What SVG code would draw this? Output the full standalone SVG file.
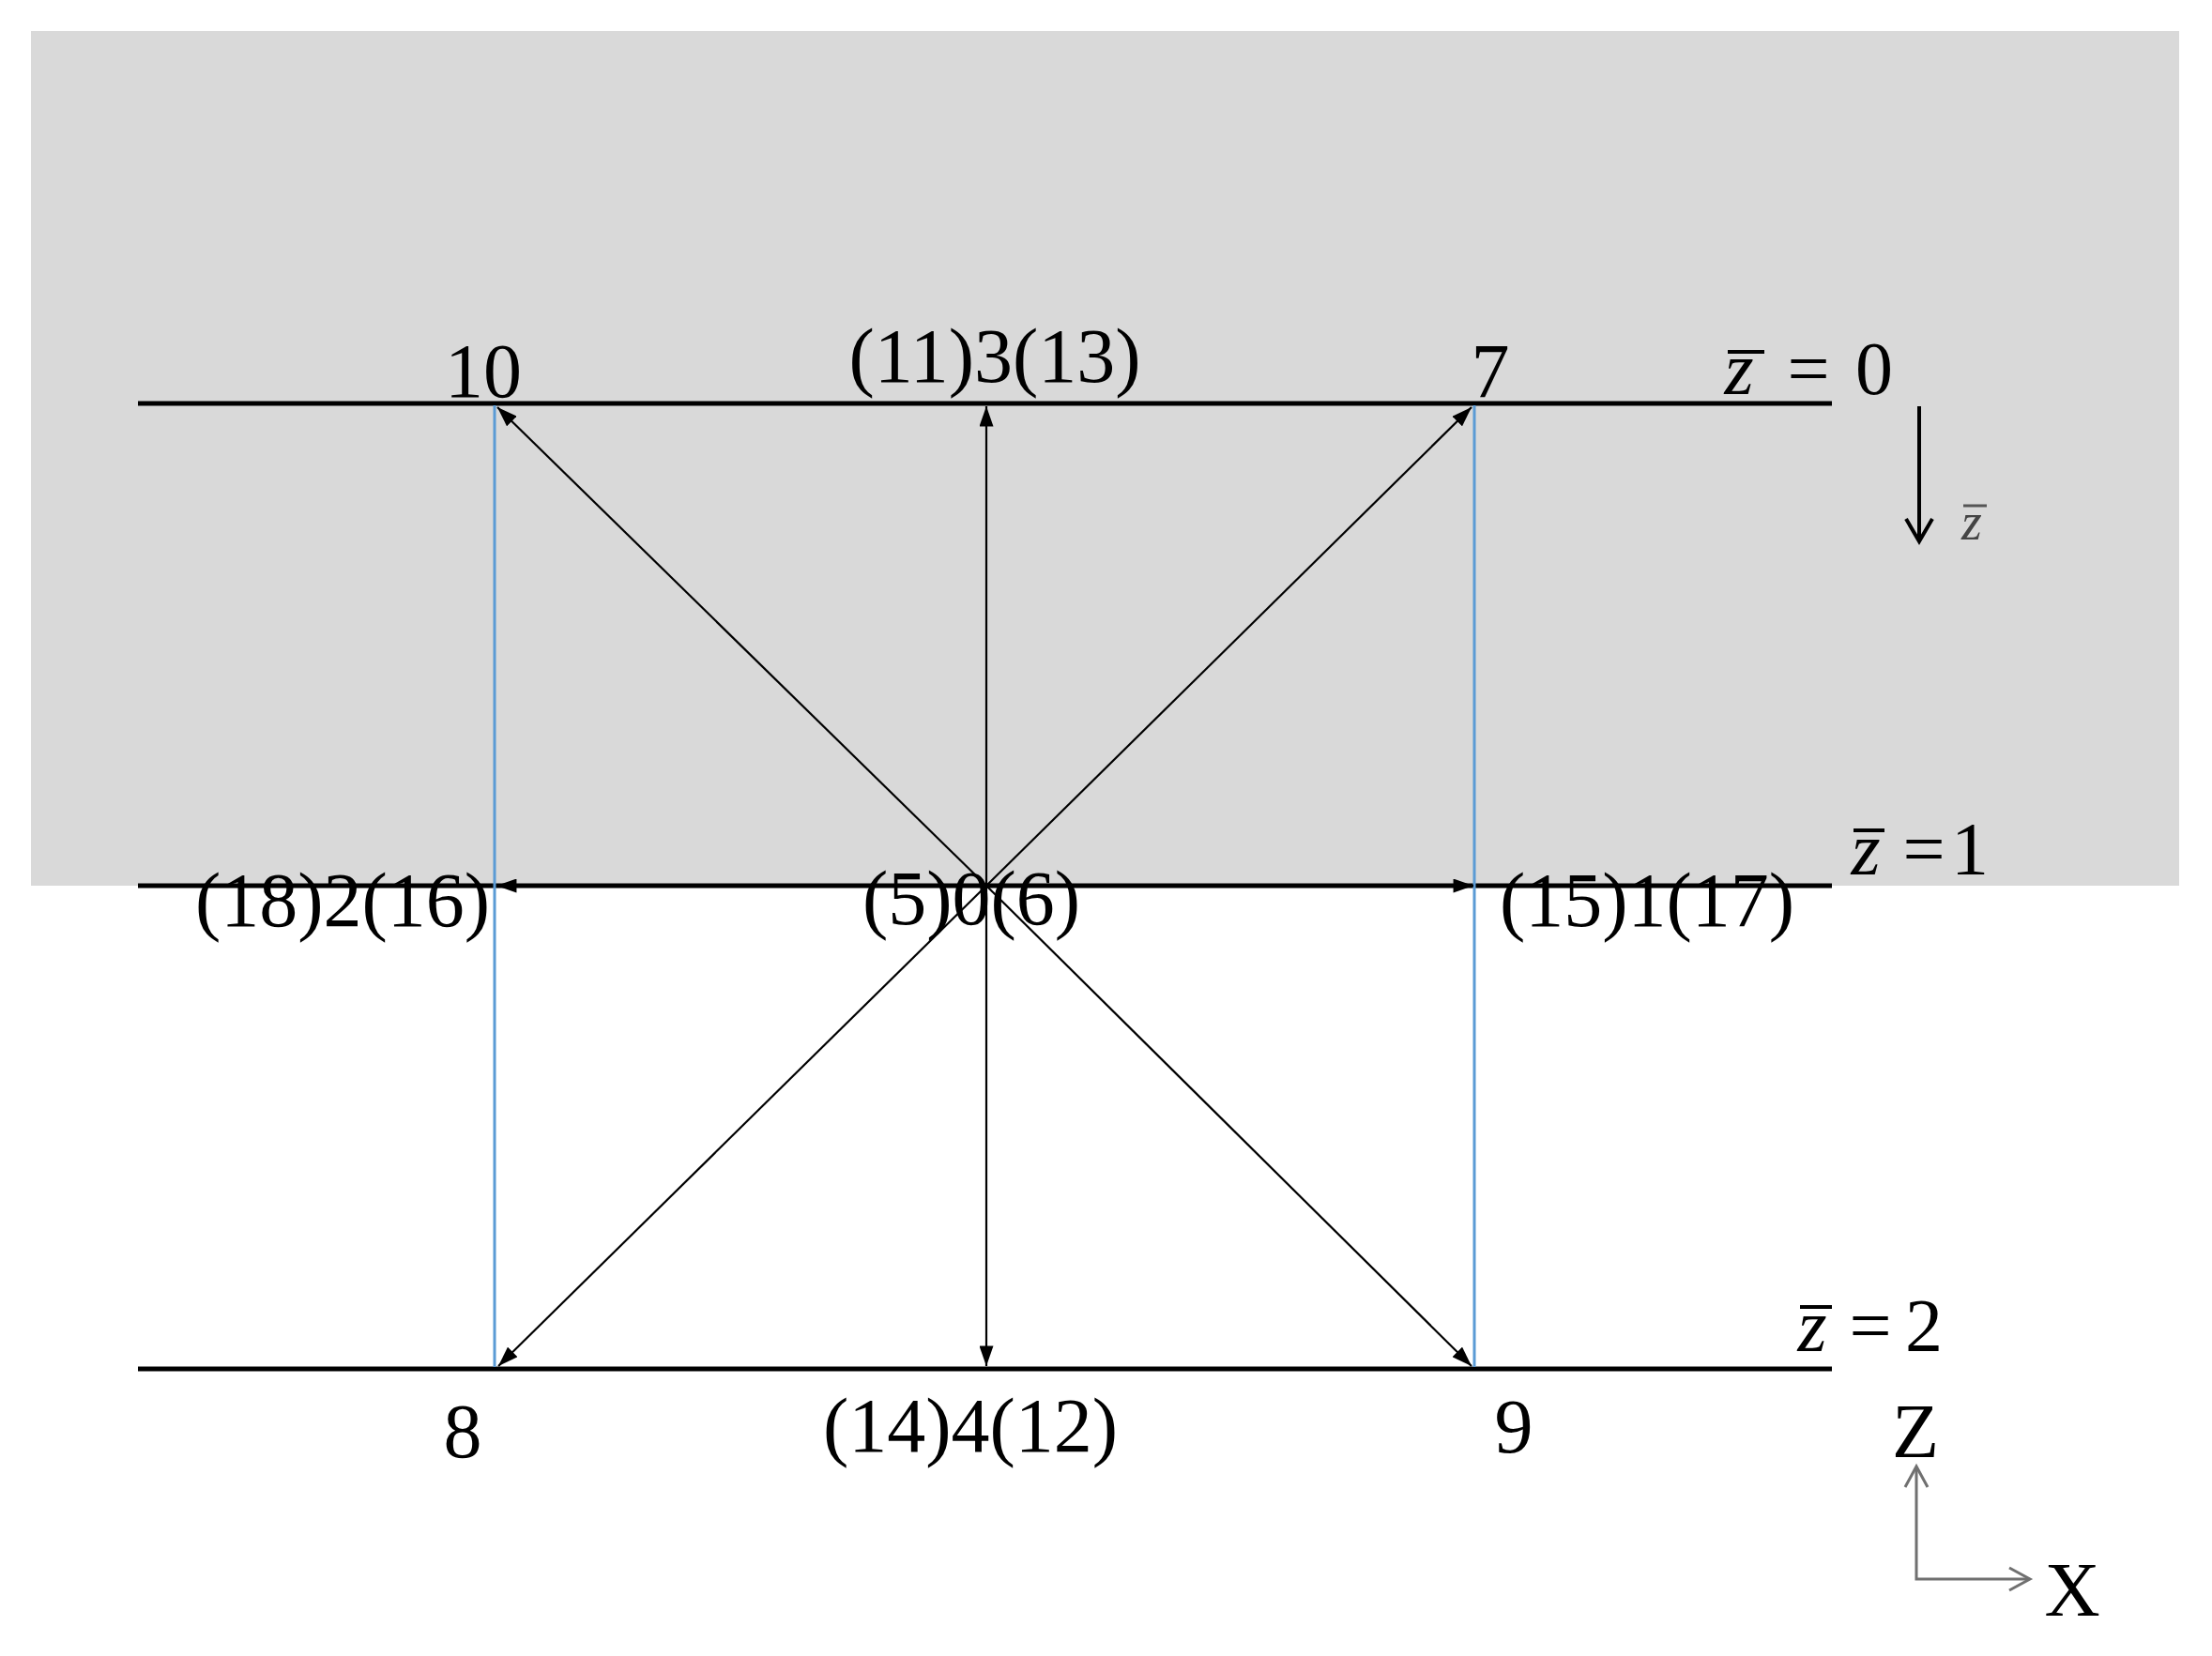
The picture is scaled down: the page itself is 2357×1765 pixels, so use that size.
<svg xmlns="http://www.w3.org/2000/svg" width="2357" height="1765" viewBox="0 0 2357 1765">
<style>
.t{font-family:"Liberation Serif","Times New Roman",serif;font-size:82px;fill:#000;text-anchor:middle}
.m{font-family:"Liberation Serif","Times New Roman",serif;font-size:80px;fill:#000;text-anchor:middle}
.mi{font-family:"Liberation Serif","Times New Roman",serif;font-size:80px;font-style:italic;fill:#000;text-anchor:middle}
.lv{stroke:#000;stroke-width:5;fill:none}
.bl{stroke:#5b9bd5;stroke-width:3;fill:none}
.ax{stroke:#707070;stroke-width:3;fill:none}
.ob{stroke:#000;stroke-width:4}
</style>
<defs>
<marker id="ah2" viewBox="0 0 20 14" refX="20" refY="7" markerWidth="22" markerHeight="15" markerUnits="userSpaceOnUse" orient="auto">
<path d="M0,0 L20,7 L0,14 z" fill="#000"/>
</marker>
</defs>
<rect id="bg" x="33" y="33" width="2289" height="911" fill="#d9d9d9"/>
<g id="levels">
<line class="lv" x1="147" y1="430" x2="1952" y2="430"/>
<line class="lv" x1="147" y1="944" x2="1952" y2="944"/>
<line class="lv" x1="147" y1="1459" x2="1952" y2="1459"/>
</g>
<g id="connectors">
<line class="bl" x1="527" y1="432" x2="527" y2="1457"/>
<line class="bl" x1="1571" y1="432" x2="1571" y2="1457"/>
<g stroke="#000" stroke-width="2.2" fill="none" marker-end="url(#ah2)">
<line x1="1051" y1="944" x2="1051" y2="433"/>
<line x1="1051" y1="944" x2="1051" y2="1456"/>
<line x1="1051" y1="944" x2="529" y2="944"/>
<line x1="1051" y1="944" x2="1570" y2="944"/>
<line x1="1051" y1="944" x2="530" y2="434"/>
<line x1="1051" y1="944" x2="1568" y2="434"/>
<line x1="1051" y1="944" x2="531" y2="1456"/>
<line x1="1051" y1="944" x2="1568" y2="1456"/>
</g>
</g>
<g id="n10"><text class="t" x="515" y="423">10</text></g>
<g id="n3"><text class="t" x="1060" y="407">(11)3(13)</text></g>
<g id="n7"><text class="t" x="1588" y="423">7</text></g>
<g id="n2"><text class="t" x="365" y="987">(18)2(16)</text></g>
<g id="n0"><text class="t" x="1035" y="985">(5)0(6)</text></g>
<g id="n1"><text class="t" x="1755" y="987">(15)1(17)</text></g>
<g id="n8"><text class="t" x="493" y="1553">8</text></g>
<g id="n4"><text class="t" x="1034" y="1547">(14)4(12)</text></g>
<g id="n9"><text class="t" x="1613" y="1548">9</text></g>
<g id="z0">
<text class="mi" x="1853" y="420">z</text>
<line class="ob" x1="1841" y1="375" x2="1880" y2="375"/>
<text class="m" x="1927" y="420">=</text>
<text class="m" x="1997" y="420">0</text>
</g>
<g id="z1">
<text class="mi" x="1988" y="932">z</text>
<line class="ob" x1="1975" y1="885" x2="2008" y2="885"/>
<text class="m" x="2050" y="932">=</text>
<text class="m" x="2099" y="932">1</text>
</g>
<g id="z2">
<text class="mi" x="1931" y="1440">z</text>
<line class="ob" x1="1918" y1="1393" x2="1952" y2="1393"/>
<text class="m" x="1993" y="1440">=</text>
<text class="m" x="2050" y="1440">2</text>
</g>
<g id="zdir">
<line x1="2045" y1="433" x2="2045" y2="576" stroke="#000" stroke-width="4"/>
<polyline points="2031,553 2045,577 2059,553" fill="none" stroke="#000" stroke-width="4"/>
<text x="2101" y="575" font-family="Liberation Serif, serif" font-size="56" font-style="italic" fill="#444" text-anchor="middle">z</text>
<line x1="2092" y1="539" x2="2117" y2="539" stroke="#555" stroke-width="3"/>
</g>
<g id="axes">
<polyline class="ax" points="2042,1565 2042,1683 2161,1683"/>
<polyline class="ax" points="2030,1585 2042,1563 2054,1585"/>
<polyline class="ax" points="2141,1671 2163,1683 2141,1695"/>
<text class="t" x="2041" y="1553">Z</text>
<text class="t" x="2208" y="1722">X</text>
</g>
</svg>
